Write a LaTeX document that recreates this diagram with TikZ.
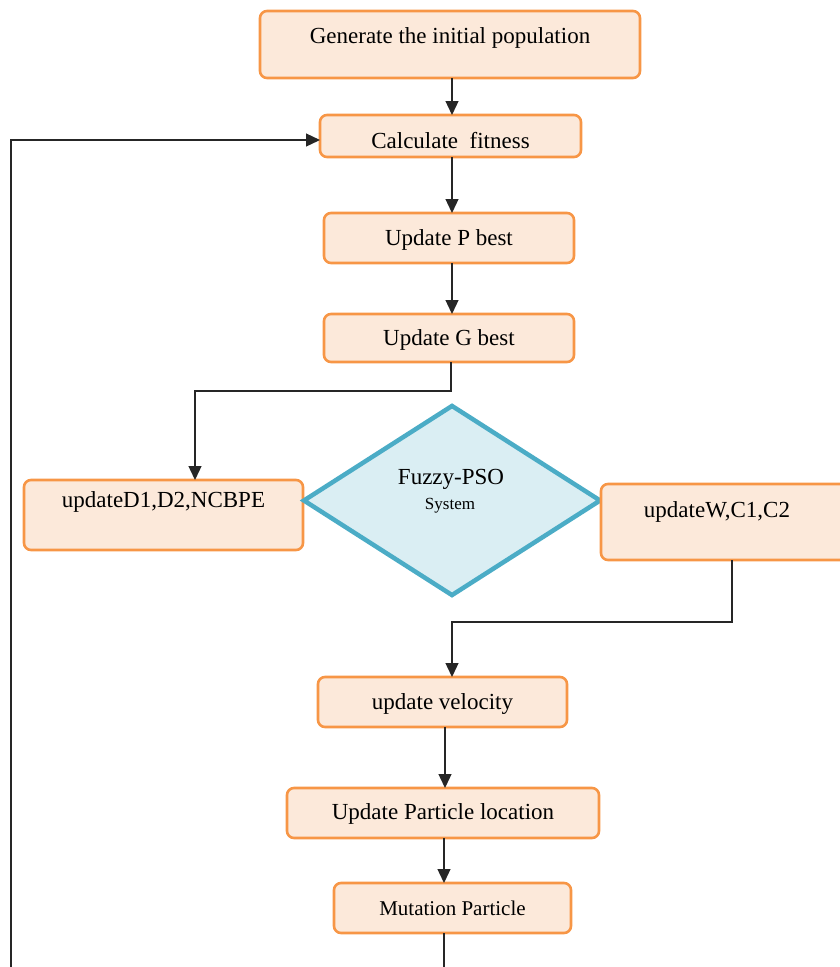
\documentclass[tikz,border=0pt]{standalone}
\usepackage{fontspec}
\setmainfont{Liberation Serif}
\usetikzlibrary{arrows.meta,shapes.geometric}
\definecolor{boxfill}{HTML}{FCE9DA}
\definecolor{boxline}{HTML}{F79646}
\definecolor{dfill}{HTML}{DAEEF3}
\definecolor{dline}{HTML}{4BACC6}
\tikzset{
  pbox/.style={draw=boxline, fill=boxfill, line width=2.6pt, rounded corners=7pt, inner sep=0pt, outer sep=0pt},
  ptext/.style={font=\fontsize{23}{26}\selectfont, inner sep=0pt},
  conn/.style={draw=black!85, line width=1.3pt, -{Triangle[length=14pt,width=13pt]}},
  plain/.style={draw=black!85, line width=1.3pt},
}
\begin{document}
\begin{tikzpicture}[x=1pt,y=-1pt]
\useasboundingbox (0,0) rectangle (840,967);
\clip (0,0) rectangle (840,967);
% boxes
\node[pbox, minimum width=380pt, minimum height=67pt] (gen) at (450,44.5) {};
\node[ptext] (gent) at (450,38) {Generate the initial population};
\node[pbox, minimum width=261pt, minimum height=42pt] (calc) at (450.5,136) {};
\node[ptext] (calct) at (450.5,141) {Calculate\ \ fitness};
\node[pbox, minimum width=250pt, minimum height=50pt] (pb) at (449,238) {};
\node[ptext] (pbt) at (449,240) {Update P best};
\node[pbox, minimum width=250pt, minimum height=48pt] (gb) at (449,338) {};
\node[ptext] (gbt) at (449,340) {Update G best};
\node[pbox, minimum width=279pt, minimum height=70pt] (d1) at (163.5,515) {};
\node[ptext] (d1t) at (163.5,502) {updateD1,D2,NCBPE};
\node[diamond, draw=dline, fill=dfill, line width=4.5pt, minimum width=298pt, minimum height=191pt, inner sep=0pt] (fz) at (452,500.5) {};
\node[ptext] (fzt) at (451,479) {Fuzzy-PSO};
\node[font=\fontsize{17}{19}\selectfont, inner sep=0pt] (fzs) at (450,506) {System};
\node[pbox, minimum width=250pt, minimum height=76pt] (w) at (726,522) {};
\node[ptext] (wt) at (717,512) {updateW,C1,C2};
\node[pbox, minimum width=249pt, minimum height=50pt] (vel) at (442.5,702) {};
\node[ptext] (velt) at (442.5,704) {update velocity};
\node[pbox, minimum width=312pt, minimum height=50pt] (loc) at (443,813) {};
\node[ptext] (loct) at (443,814) {Update Particle location};
\node[pbox, minimum width=237pt, minimum height=50pt] (mut) at (452.5,908) {\fontsize{21}{24}\selectfont Mutation Particle};
% coordinates
\coordinate (bl) at (11,967);
\coordinate (mb) at (444,967);
% connectors
\draw[conn] (gen.south -| 452,0) -- (calc.north -| 452,0);
\draw[conn] (calc.south -| 452,0) -- (pb.north -| 452,0);
\draw[conn] (pb.south -| 452,0) -- (gb.north -| 452,0);
\draw[conn] (gb.south -| 451,0) -- (451,391) -- (195,391) -- (d1.north -| 195,0);
\draw[conn] (w.south -| 732,0) -- (732,622) -- (452,622) -- (vel.north -| 452,0);
\draw[conn] (vel.south -| 445,0) -- (loc.north -| 445,0);
\draw[conn] (loc.south -| 444,0) -- (mut.north -| 444,0);
\draw[plain] (mut.south -| 444,0) -- (mb);
\draw[conn] (bl) -- (11,140) -- (calc.west |- 0,140);
\end{tikzpicture}
\end{document}
